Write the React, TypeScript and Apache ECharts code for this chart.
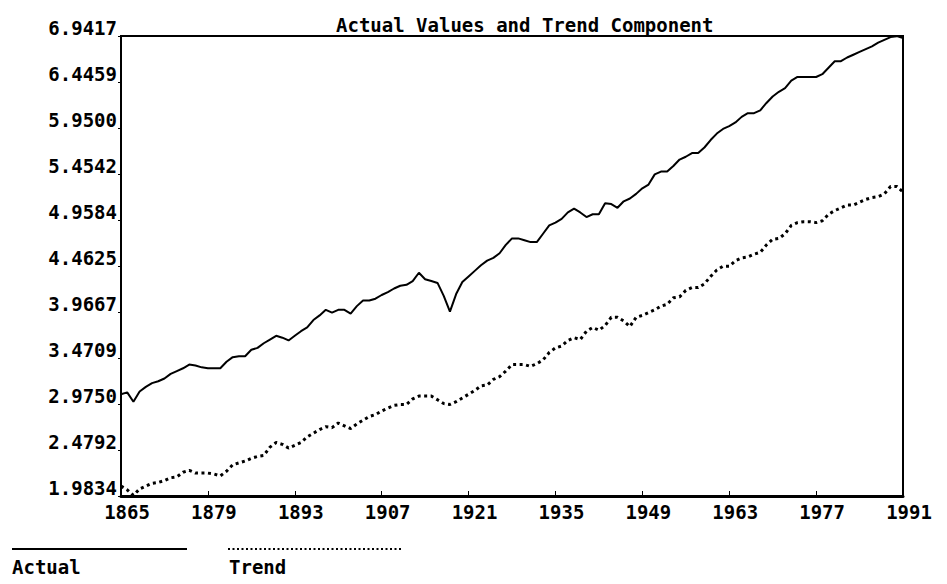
import React, { useEffect, useRef } from "react";
import * as echarts from "echarts";

const titleText = "Actual Values and Trend Component";
const years: string[] = Array.from({ length: 127 }, (_, i) => String(1865 + i));

const yTickLabels = ["1.9834", "2.4792", "2.9750", "3.4709", "3.9667", "4.4625", "4.9584", "5.4542", "5.9500", "6.4459", "6.9417"];
const yInterval = 0.495838;
const yMin = 1.983352;
const yMax = 6.941732;

// 1865 .. 1991
const actual = [
  3.08, 3.10, 3.00, 3.11, 3.16, 3.20, 3.22, 3.25, 3.30, 3.33,
  3.36, 3.40, 3.39, 3.37, 3.36, 3.36, 3.36, 3.43, 3.48, 3.49,
  3.49, 3.56, 3.58, 3.63, 3.67, 3.71, 3.69, 3.66, 3.71, 3.76,
  3.80, 3.88, 3.93, 3.99, 3.96, 3.99, 3.99, 3.95, 4.03, 4.09,
  4.09, 4.11, 4.15, 4.18, 4.22, 4.25, 4.26, 4.30, 4.39, 4.32,
  4.30, 4.28, 4.14, 3.97, 4.16, 4.29, 4.35, 4.41, 4.47, 4.52,
  4.55, 4.60, 4.69, 4.76, 4.76, 4.74, 4.72, 4.72, 4.81, 4.90,
  4.93, 4.97, 5.04, 5.08, 5.04, 4.99, 5.02, 5.02, 5.14, 5.13,
  5.09, 5.16, 5.19, 5.24, 5.30, 5.34, 5.45, 5.48, 5.48, 5.54,
  5.61, 5.64, 5.68, 5.68, 5.74, 5.82, 5.89, 5.94, 5.97, 6.01,
  6.07, 6.11, 6.11, 6.14, 6.22, 6.29, 6.34, 6.38, 6.46, 6.50,
  6.50, 6.50, 6.50, 6.53, 6.60, 6.67, 6.67, 6.71, 6.74, 6.77,
  6.80, 6.83, 6.87, 6.90, 6.93, 6.94, 6.92,
];

const trend = [
  2.09, 2.05, 1.99, 2.06, 2.09, 2.12, 2.13, 2.15, 2.18, 2.19,
  2.24, 2.26, 2.23, 2.23, 2.23, 2.22, 2.20, 2.25, 2.32, 2.34,
  2.36, 2.39, 2.41, 2.42, 2.51, 2.56, 2.54, 2.50, 2.53, 2.56,
  2.62, 2.66, 2.70, 2.73, 2.72, 2.77, 2.74, 2.71, 2.76, 2.80,
  2.84, 2.86, 2.90, 2.93, 2.96, 2.97, 2.97, 3.03, 3.06, 3.06,
  3.06, 3.02, 2.98, 2.97, 3.00, 3.04, 3.08, 3.12, 3.17, 3.18,
  3.24, 3.27, 3.33, 3.40, 3.40, 3.40, 3.38, 3.41, 3.45, 3.53,
  3.58, 3.60, 3.66, 3.69, 3.67, 3.76, 3.80, 3.77, 3.82, 3.91,
  3.91, 3.87, 3.81, 3.91, 3.93, 3.96, 3.99, 4.03, 4.05, 4.12,
  4.13, 4.20, 4.23, 4.23, 4.27, 4.35, 4.42, 4.46, 4.46, 4.52,
  4.55, 4.56, 4.59, 4.61, 4.69, 4.75, 4.76, 4.81, 4.90, 4.93,
  4.94, 4.94, 4.93, 4.95, 5.02, 5.06, 5.09, 5.12, 5.12, 5.15,
  5.18, 5.20, 5.21, 5.24, 5.32, 5.32, 5.26,
];

const legendNames = ["Actual", "Trend"];

const FONT = "'DejaVu Sans Mono', 'Liberation Mono', monospace";

export default function App() {
  const ref = useRef<HTMLDivElement>(null);
  useEffect(() => {
    if (!ref.current) return;
    const chart = echarts.init(ref.current, undefined, { renderer: "svg" });
    const labelStyle = {
      fontFamily: FONT,
      fontWeight: "bold" as const,
      fontSize: 19,
      color: "#000",
    };
    chart.setOption({
      animation: false,
      backgroundColor: "#fff",
      title: {
        text: titleText,
        left: 331,
        top: 10,
        textStyle: { ...labelStyle, fontSize: 19 },
      },
      grid: {
        left: 121,
        right: 44,
        top: 36,
        bottom: 88,
        show: true,
        borderColor: "#000",
        borderWidth: 2,
        containLabel: false,
      },
      xAxis: {
        type: "category",
        data: years,
        boundaryGap: false,
        axisLine: { lineStyle: { color: "#000", width: 3 } },
        axisTick: { show: true, interval: 13, inside: true, length: 5, lineStyle: { color: "#000" } },
        axisLabel: { ...labelStyle, interval: 13, margin: 6, padding: [0, 0, 0, 12] },
        splitLine: { show: false },
      },
      yAxis: {
        type: "value",
        min: yMin,
        max: yMax,
        interval: yInterval,
        axisLine: { show: true, lineStyle: { color: "#000", width: 2 } },
        axisTick: { show: true, length: 3, lineStyle: { color: "#000" } },
        axisLabel: {
          ...labelStyle,
          margin: 4,
          verticalAlign: "bottom",
          lineHeight: 16,
          formatter: (v: number) => yTickLabels[Math.round((v - yMin) / yInterval)] ?? "",
        },
        splitLine: { show: false },
      },
      series: [
        {
          name: legendNames[0],
          type: "line",
          data: actual,
          showSymbol: false,
          lineStyle: { color: "#000", width: 2 },
        },
        {
          name: legendNames[1],
          type: "line",
          data: trend,
          showSymbol: false,
          lineStyle: { color: "#000", width: 3, type: [3, 3.5] },
        },
      ],
      graphic: [
        { type: "line", shape: { x1: 12, y1: 549, x2: 187, y2: 549 }, style: { stroke: "#000", lineWidth: 2 } },
        { type: "text", x: 12, y: 557, style: { text: legendNames[0], fill: "#000", fontFamily: FONT, fontSize: 19, fontWeight: "bold" } },
        { type: "line", shape: { x1: 228, y1: 549, x2: 403, y2: 549 }, style: { stroke: "#000", lineWidth: 2, lineDash: [2, 2.5] } },
        { type: "text", x: 229, y: 557, style: { text: legendNames[1], fill: "#000", fontFamily: FONT, fontSize: 19, fontWeight: "bold" } },
      ],
    });
    return () => chart.dispose();
  }, []);
  return <div ref={ref} style={{ position: "fixed", left: 0, top: 0, width: 947, height: 584 }} />;
}
